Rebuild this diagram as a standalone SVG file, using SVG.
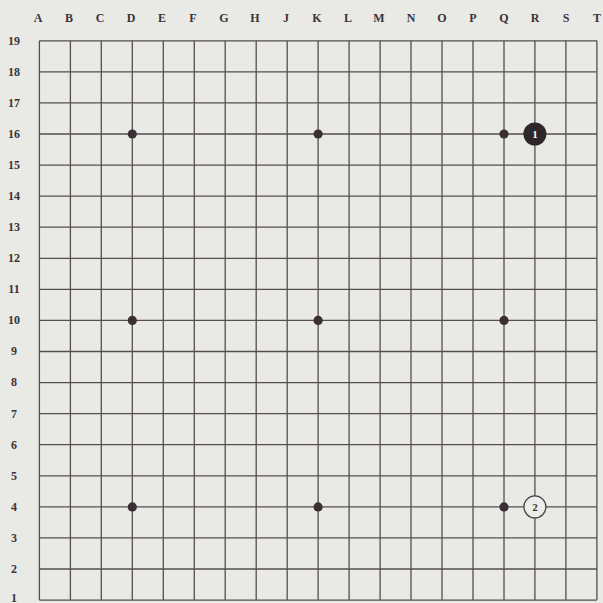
<svg xmlns="http://www.w3.org/2000/svg" width="603" height="603" viewBox="0 0 603 603">
<style>
.g{stroke:#574e50;stroke-width:1.3;fill:none}
.lbl{font-family:"Liberation Serif",serif;font-weight:bold;font-size:12px;fill:#3a3436;text-anchor:middle}
.star{fill:#3a3034}
.num{font-family:"Liberation Serif",serif;font-weight:bold;font-size:11px;text-anchor:middle}
</style>
<rect width="603" height="603" fill="#e9e9e6"/>
<g id="columns" class="lbl">
<text x="38" y="22">A</text><text x="69" y="22">B</text><text x="100" y="22">C</text><text x="131" y="22">D</text><text x="162" y="22">E</text><text x="193" y="22">F</text><text x="224" y="22">G</text><text x="255" y="22">H</text><text x="286" y="22">J</text><text x="317" y="22">K</text><text x="348" y="22">L</text><text x="379" y="22">M</text><text x="411" y="22">N</text><text x="442" y="22">O</text><text x="473" y="22">P</text><text x="504" y="22">Q</text><text x="535" y="22">R</text><text x="566" y="22">S</text><text x="597" y="22">T</text>
</g>
<g id="rows" class="lbl">
<text x="14" y="45">19</text><text x="14" y="76">18</text><text x="14" y="107">17</text><text x="14" y="138">16</text><text x="14" y="169">15</text><text x="14" y="200">14</text><text x="14" y="231">13</text><text x="14" y="262">12</text><text x="14" y="293">11</text><text x="14" y="324">10</text><text x="14" y="355">9</text><text x="14" y="386">8</text><text x="14" y="418">7</text><text x="14" y="449">6</text><text x="14" y="480">5</text><text x="14" y="511">4</text><text x="14" y="542">3</text><text x="14" y="573">2</text><text x="14" y="601.5">1</text>
</g>
<g id="grid" class="g">
<path d="M39.4 40.8V600.1M70.4 40.8V600.1M101.3 40.8V600.1M132.3 40.8V600.1M163.3 40.8V600.1M194.3 40.8V600.1M225.2 40.8V600.1M256.2 40.8V600.1M287.2 40.8V600.1M318.1 40.8V600.1M349.1 40.8V600.1M380.1 40.8V600.1M411 40.8V600.1M442 40.8V600.1M473 40.8V600.1M504 40.8V600.1M534.9 40.8V600.1M565.9 40.8V600.1M596.9 40.8V600.1"/>
<path d="M39.4 40.8H596.9M39.4 71.9H596.9M39.4 102.9H596.9M39.4 134H596.9M39.4 165.1H596.9M39.4 196.2H596.9M39.4 227.2H596.9M39.4 258.3H596.9M39.4 289.4H596.9M39.4 320.4H596.9M39.4 351.5H596.9M39.4 382.6H596.9M39.4 413.6H596.9M39.4 444.7H596.9M39.4 475.8H596.9M39.4 506.9H596.9M39.4 537.9H596.9M39.4 569H596.9M39.4 600.1H596.9"/>
</g>
<g id="stars" class="star">
<circle cx="132.3" cy="134" r="4.6"/><circle cx="318.1" cy="134" r="4.6"/><circle cx="504" cy="134" r="4.6"/>
<circle cx="132.3" cy="320.4" r="4.6"/><circle cx="318.1" cy="320.4" r="4.6"/><circle cx="504" cy="320.4" r="4.6"/>
<circle cx="132.3" cy="506.9" r="4.6"/><circle cx="318.1" cy="506.9" r="4.6"/><circle cx="504" cy="506.9" r="4.6"/>
</g>
<g id="stone1">
<circle cx="534.9" cy="134" r="11.5" fill="#2e2628"/>
<text x="534.9" y="138" class="num" fill="#ffffff">1</text>
</g>
<g id="stone2">
<circle cx="534.9" cy="506.9" r="11" fill="#ececea" stroke="#4a4244" stroke-width="1.3"/>
<text x="534.9" y="510.9" class="num" fill="#3a3436">2</text>
</g>
</svg>
